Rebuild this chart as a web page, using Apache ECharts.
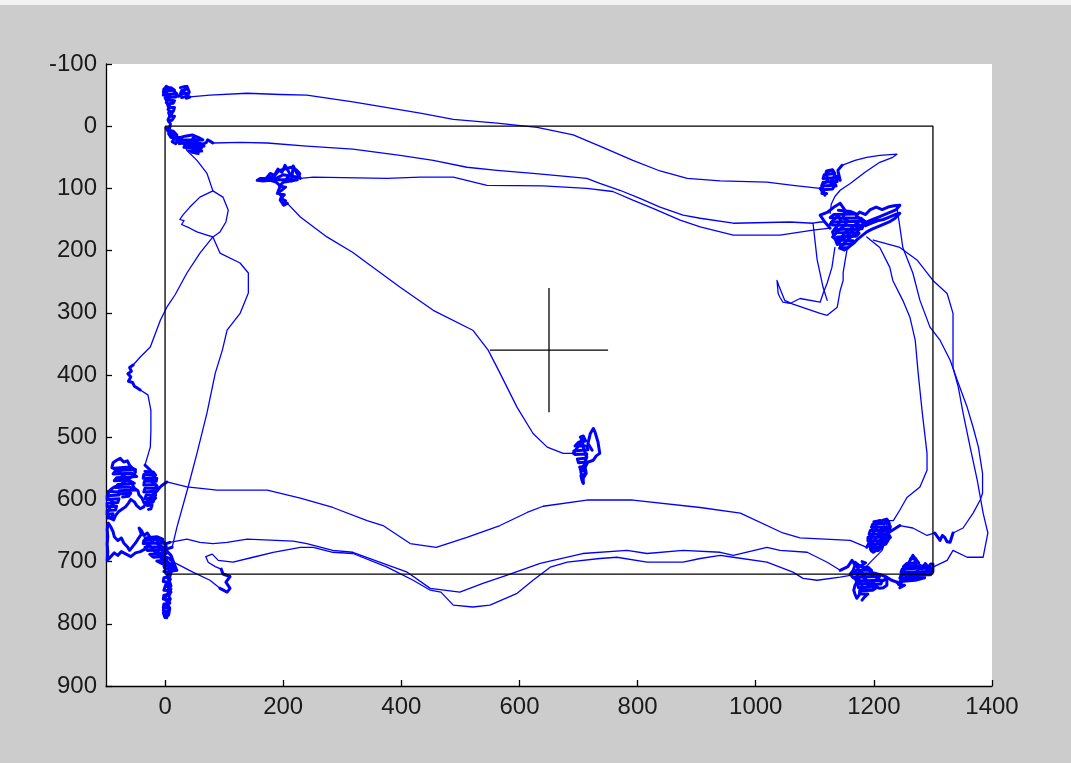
<!DOCTYPE html>
<html>
<head>
<meta charset="utf-8">
<title>Track</title>
<script src="https://cdn.jsdelivr.net/npm/echarts@6.0.0/dist/echarts.min.js"></script>
<style>
  html, body { margin: 0; padding: 0; background: #cccccc; }
  #chart { width: 1071px; height: 763px; }
</style>
</head>
<body>
<div id="chart"></div>
<script>
// tick labels
const xTicks = [0, 200, 400, 600, 800, 1000, 1200, 1400]
const yTicks = [-100, 0, 100, 200, 300, 400, 500, 600, 700, 800, 900]

// arena box and centre cross
const arenaBox = [[0, 0], [1300, 0], [1300, 720], [0, 720], [0, 0]]
const crossH = [[550, 360], [750, 360]]
const crossV = [[650, 260], [650, 460]]

// track runs (x, y)
const topArcLine = [[42,-47],[76,-50],[139,-53],[195,-51],[240,-50],[318,-39],[432,-21],[488,-11],[562,-5],[630,2],[691,14],[748,37],[792,55],[838,72],[884,84],[940,88],[1019,90],[1063,95],[1109,100]]
const tipLine = [[1146,63],[1168,55],[1188,50],[1210,47],[1239,45],[1232,50],[1210,58],[1185,74],[1160,92],[1143,103],[1134,113],[1128,125],[1126,140]]
const midArcLine = [[81,27],[127,26],[173,27],[240,32],[318,37],[398,47],[454,55],[511,66],[562,71],[623,76],[669,80],[714,84],[736,92],[770,103],[804,116],[838,130],[877,143],[906,148],[962,156],[1058,154],[1097,156],[1109,154],[1117,154]]
const line4 = [[691,526],[674,526],[647,516],[623,494],[596,452],[567,397],[547,360],[521,328],[454,296],[398,259],[342,220],[318,203],[274,178],[229,146],[207,124]]
const line3 = [[229,84],[251,82],[376,84],[432,82],[488,82],[545,95],[640,96],[714,100],[758,105],[792,119],[826,132],[872,151],[906,162],[962,175],[1041,175],[1097,167],[1126,164]]
const leftLoopLine = [[34,32],[37,39],[54,55],[71,76],[81,104],[59,114],[42,130],[30,143],[25,150],[32,152],[28,158],[30,159],[42,164],[54,170],[71,175],[81,178],[59,204],[37,236],[17,271],[3,291],[-8,312],[-25,355],[-42,371],[-54,384]]
const leftLoopLine2 = [[-42,424],[-29,432],[-24,457],[-24,490],[-25,516],[-34,545]]
const bottomLine = [[3,572],[37,580],[88,585],[173,585],[229,598],[284,613],[342,634],[369,642],[415,671],[459,677],[511,661],[567,642],[613,621],[640,611],[714,601],[792,601],[906,613],[974,622],[1046,654],[1075,662],[1160,666],[1188,677]]
const rightLine = [[1244,642],[1266,646],[1290,658],[1303,654]]
const outerUpLine = [[1334,654],[1351,646],[1368,622],[1380,601],[1384,590],[1384,558],[1377,516],[1368,484],[1358,452],[1341,408],[1329,376],[1312,344],[1295,323],[1278,280],[1266,236],[1249,195],[1244,162],[1239,130]]
const leftDownLine = [[81,104],[98,114],[107,135],[103,154],[93,170],[81,178],[93,204],[127,220],[141,236],[141,268],[127,301],[105,328],[97,360],[85,397],[71,461],[54,526],[39,580],[20,645],[12,677]]
const lineA = [[8,669],[37,664],[59,669],[81,671],[105,669],[139,664],[217,667],[240,671],[284,682],[318,685],[369,703],[410,717],[449,743],[499,749],[538,735],[578,722],[635,703],[707,687],[782,682],[816,687],[877,682],[940,685],[962,690],[1019,677],[1041,682],[1087,685],[1121,701],[1143,714]]
const r3Line = [[1300,709],[1324,698],[1334,682],[1358,693],[1385,693],[1393,654],[1388,634],[1385,622],[1375,569],[1363,516],[1351,461],[1343,420],[1334,388],[1334,301],[1324,269],[1300,248],[1273,215],[1244,195],[1199,183]]
const lineC = [[8,698],[25,706],[47,717],[76,730],[93,743]]
const lineB = [[95,712],[85,708],[73,701],[69,692],[80,688],[90,698],[115,701],[149,693],[183,685],[229,677],[251,677],[284,685],[318,687],[376,709],[420,730],[449,746],[467,749],[488,770],[521,773],[550,770],[596,751],[623,730],[652,709],[681,701],[736,695],[765,693],[816,701],[877,701],[906,695],[940,690],[962,693],[1019,701],[1063,717],[1080,727],[1104,730],[1143,725],[1160,722],[1180,715],[1195,700],[1214,682],[1222,660],[1222,634],[1233,634],[1244,617],[1256,597],[1278,580],[1290,553],[1290,526],[1282,461],[1275,397],[1270,344],[1261,307],[1249,280],[1232,248],[1227,227],[1210,195],[1188,178]]
const hookPath = [[1134,195],[1129,227],[1121,252],[1114,269],[1109,283],[1075,277],[1058,285],[1046,283],[1041,275],[1038,269],[1036,248],[1039,256],[1049,280],[1063,286],[1109,301],[1121,304],[1138,291],[1143,264],[1148,248],[1148,235],[1155,196]]
const hookStem = [[1097,156],[1104,215],[1114,259],[1121,280]]

// places where the animal lingered (scribble outlines)
const clusterA = [[42,-47],[36,-45],[41,-55],[37,-64],[33,-58],[30,-53],[26,-49],[22,-48],[17,-55],[12,-58],[8,-61],[2,-64],[-2,-58],[3,-55],[-3,-50],[5,-51],[9,-47],[4,-42],[2,-38],[8,-32],[5,-27],[12,-21],[8,-16],[5,-10],[9,-4],[8,3],[2,3],[5,8],[8,11],[14,14],[17,19],[12,25],[18,28],[20,24],[25,26],[28,20],[30,24],[34,32],[38,28],[40,24],[42,27],[46,22],[48,18],[51,21],[54,26],[56,30],[52,36],[58,40],[62,34],[64,35],[66,28],[68,31],[70,26],[72,22],[76,24],[81,27]]
const clusterB1 = [[1109,100],[1117,111],[1112,95],[1122,87],[1119,74],[1129,71],[1134,80],[1126,90],[1136,96],[1130,84],[1138,80],[1143,87],[1139,71],[1146,63]]
const clusterB2 = [[1126,164],[1117,154],[1109,143],[1122,138],[1134,129],[1143,124],[1151,135],[1148,148],[1156,152],[1150,160],[1142,166],[1136,172],[1130,178],[1138,184],[1146,178],[1152,170],[1160,166],[1166,160],[1172,156],[1178,162],[1172,170],[1164,176],[1156,182],[1148,190],[1142,196],[1150,199],[1158,194],[1166,188],[1172,182],[1180,176],[1188,170],[1196,166],[1206,162],[1216,158],[1226,154],[1236,148],[1244,140],[1236,142],[1226,146],[1216,150],[1206,152],[1196,156],[1186,160],[1178,150],[1170,144],[1176,138],[1186,142],[1194,134],[1204,130],[1214,134],[1224,130],[1234,128],[1244,127],[1238,134],[1228,138],[1218,142],[1208,146],[1198,150],[1188,154],[1180,158],[1168,166],[1160,172],[1152,178],[1144,184],[1138,190],[1134,180],[1130,170],[1138,160],[1144,152],[1140,144],[1132,150],[1126,158]]
const clusterC = [[207,124],[201,127],[195,119],[198,113],[191,106],[195,96],[188,90],[178,87],[166,88],[156,87],[161,84],[171,84],[178,76],[185,79],[191,69],[198,74],[203,63],[208,71],[212,78],[206,84],[214,88],[217,64],[222,74],[229,84]]
const clusterD = [[723,521],[716,510],[720,494],[725,486],[728,492],[733,508],[736,526],[730,530],[725,537],[716,540],[711,548],[713,558],[708,566],[708,574],[706,564],[704,556],[708,548],[714,532],[708,516],[706,500],[703,510],[691,526]]
const clusterLeft = [[-54,384],[-60,388],[-57,394],[-63,398],[-58,403],[-62,410],[-55,412],[-52,418],[-47,421],[-42,424]]
const clusterE = [[-34,545],[-25,553],[-17,566],[-22,572],[-14,578],[-12,585],[-19,592],[-16,598],[-25,603],[-29,609],[-36,605],[-39,598],[-44,593],[-46,586],[-52,582],[-56,575],[-62,570],[-67,564],[-73,560],[-78,556],[-84,552],[-90,549],[-88,541],[-82,537],[-76,534],[-70,540],[-64,538],[-60,545],[-55,550],[-50,556],[-54,562],[-60,566],[-66,570],[-72,574],[-78,578],[-86,580],[-92,584],[-96,590],[-97,598],[-91,602],[-86,606],[-92,611],[-96,617],[-98,624],[-93,630],[-87,633],[-84,626],[-79,620],[-73,616],[-67,612],[-62,606],[-58,600],[-52,604],[-48,610],[-42,615],[-36,612],[-33,606],[-28,600],[-22,594],[-17,588],[-12,584],[-6,578],[3,572]]
const clusterCorner = [[12,677],[2,680],[-6,686],[-2,692],[6,694],[14,700],[8,707],[15,712],[8,718],[3,724],[7,731],[1,737],[6,743],[10,749],[3,753],[-1,760],[5,765],[1,772],[-3,778],[3,783],[0,790],[6,786],[8,775],[4,768],[9,760],[4,752],[10,744],[5,737],[9,728],[4,721],[10,713],[6,705],[-3,700],[-8,692],[-12,684],[-8,676],[-14,670],[-10,664],[-18,662],[-22,668],[-26,660],[-30,654],[-36,658],[-40,650],[-44,646],[-40,656],[-46,664],[-50,670],[-55,676],[-60,682],[-64,676],[-70,670],[-74,662],[-80,666],[-86,660],[-88,652],[-92,644],[-96,638],[-98,648],[-97,660],[-98,672],[-97,684],[-98,698],[-92,692],[-86,686],[-80,690],[-74,684],[-66,688],[-58,692],[-50,686],[-42,684],[-34,680],[-28,672],[-22,678],[-16,686],[-10,690],[-4,696],[4,700],[12,706],[18,710],[10,690],[4,684],[-4,678],[-10,672],[-4,666],[0,672],[8,669]]
const clusterSmall = [[93,743],[105,749],[110,743],[103,733],[110,724],[98,720],[95,712]]
const clusterF = [[1188,677],[1194,666],[1199,654],[1205,646],[1202,637],[1210,634],[1217,640],[1222,632],[1227,642],[1221,648],[1214,646],[1208,652],[1214,658],[1222,656],[1227,662],[1220,668],[1212,664],[1206,670],[1200,676],[1207,679],[1199,685],[1194,680],[1196,672],[1202,664],[1208,658],[1214,654],[1220,660],[1214,668],[1210,676],[1218,672],[1214,660],[1244,642]]
const clusterRight = [[1303,654],[1312,666],[1316,658],[1320,661],[1324,668],[1329,669],[1334,654]]
const clusterG = [[1143,714],[1156,708],[1163,698],[1168,706],[1165,714],[1160,720],[1165,726],[1173,730],[1168,738],[1166,746],[1168,752],[1171,759],[1175,754],[1177,746],[1180,738],[1176,730],[1172,722],[1178,716],[1184,722],[1187,730],[1192,736],[1197,735],[1202,730],[1207,727],[1212,732],[1217,730],[1222,725],[1222,738],[1216,742],[1210,743],[1202,740],[1194,740],[1188,736],[1184,728],[1180,722],[1176,716],[1173,711],[1168,701],[1175,706],[1182,710],[1190,712],[1198,718],[1206,720],[1214,722],[1222,725],[1230,730],[1239,733]]
const clusterH = [[1239,733],[1244,738],[1249,730],[1246,722],[1250,716],[1253,709],[1258,704],[1261,701],[1266,690],[1271,696],[1268,704],[1274,708],[1278,706],[1282,712],[1287,703],[1292,709],[1296,704],[1300,704],[1300,716],[1294,714],[1287,717],[1281,720],[1275,722],[1268,718],[1261,725],[1256,720],[1253,730],[1260,730],[1268,726],[1275,712],[1284,710],[1292,712],[1300,709]]

// the densest cores of those spots
const denseATop = [[-2,-60],[10,-62],[16,-58],[-3,-56],[-2,-51],[20,-52],[18,-47],[0,-46],[2,-42],[16,-41],[14,-37],[4,-36],[6,-30],[16,-30],[14,-24],[6,-22],[8,-16],[16,-16],[12,-10],[6,-8]]
const denseATop2 = [[26,-62],[34,-64],[38,-60],[28,-57],[26,-52],[38,-53],[36,-48],[28,-46]]
const denseA = [[4,6],[14,8],[20,14],[6,12],[10,18],[26,18],[34,16],[46,14],[56,18],[64,22],[34,22],[20,22],[24,28],[50,26],[62,28],[66,32],[38,30],[32,34],[58,36],[62,40],[40,38],[46,42],[56,44]]
const denseB1 = [[1120,72],[1130,70],[1134,76],[1116,78],[1114,84],[1136,83],[1138,89],[1114,90],[1112,96],[1134,95],[1130,101],[1114,102],[1112,108],[1120,108]]
const denseB2 = [[1140,135],[1160,137],[1170,141],[1132,142],[1126,147],[1178,148],[1185,153],[1128,154],[1130,159],[1182,160],[1180,165],[1134,166],[1136,171],[1175,172],[1170,177],[1138,178],[1140,183],[1165,184],[1160,189],[1142,190],[1146,195],[1156,196]]
const denseC = [[170,84],[185,80],[192,72],[205,68],[214,66],[222,70],[228,76],[226,82],[212,80],[200,78],[188,84],[178,86],[166,86],[196,86],[210,86],[224,86],[200,90],[194,96],[204,98],[196,104],[190,108],[202,110],[196,116],[204,120],[200,126]]
const denseD = [[703,500],[708,498],[712,506],[700,508],[694,514],[714,514],[716,520],[692,522],[694,528],[714,527],[712,534],[698,535],[700,541],[714,540],[712,547],[702,548],[704,554],[712,553],[710,560],[704,562],[706,570],[708,574]]
const denseE1 = [[-86,550],[-60,548],[-50,552],[-84,554],[-88,559],[-56,558],[-48,563],[-82,565],[-86,570],[-62,569],[-52,574],[-80,576],[-84,581],[-60,580],[-50,585],[-78,586],[-74,591],[-58,590],[-62,595],[-72,596]]
const denseE2 = [[-34,555],[-20,556],[-16,561],[-36,560],[-37,566],[-14,566],[-15,571],[-35,571],[-36,577],[-16,576],[-14,582],[-34,582],[-36,588],[-18,587],[-16,593],[-32,593],[-34,599],[-18,598],[-20,604],[-32,604],[-30,610],[-22,609],[-24,615],[-28,616]]
const denseE3 = [[-96,587],[-80,588],[-78,593],[-98,594],[-98,600],[-78,599],[-80,605],[-98,606],[-98,612],[-82,611],[-84,617],[-98,618],[-98,624],[-88,623],[-90,629],[-97,630]]
const denseCorner = [[-34,662],[-14,660],[-4,664],[-36,666],[-37,671],[0,670],[2,676],[-34,677],[-30,682],[3,681],[2,687],[-26,688],[-20,693],[0,692],[3,698],[-14,699],[-6,703],[4,702],[10,706],[-2,707],[0,712],[18,710],[20,714],[6,716]]
const denseStrip = [[-2,716],[10,718],[8,724],[-2,726],[-3,732],[8,733],[10,739],[0,740],[-2,746],[9,747],[8,753],[-2,754],[-3,760],[6,761],[8,767],[-2,768],[-3,774],[5,775],[4,781],[-3,782],[-1,788],[3,790]]
const denseF = [[1200,636],[1214,634],[1222,632],[1226,638],[1198,640],[1196,645],[1228,644],[1226,650],[1194,650],[1192,656],[1224,655],[1228,661],[1190,661],[1190,667],[1224,666],[1220,672],[1192,672],[1194,678],[1214,677],[1208,682],[1196,683]]
const denseG = [[1180,700],[1186,702],[1176,708],[1190,709],[1196,714],[1170,714],[1166,720],[1200,719],[1210,724],[1168,725],[1170,731],[1214,730],[1212,736],[1172,736],[1174,742],[1206,741],[1198,746],[1176,747],[1178,752],[1190,752],[1184,757],[1180,762]]
const denseH = [[1262,696],[1270,695],[1276,702],[1256,703],[1250,708],[1284,707],[1294,710],[1248,712],[1246,717],[1298,716],[1296,721],[1246,722],[1244,727],[1286,726],[1270,730],[1244,732],[1242,737],[1252,738],[1244,742]]

const trackLines = [topArcLine, tipLine, midArcLine, line4, line3, leftLoopLine, leftLoopLine2, bottomLine, rightLine, outerUpLine, leftDownLine, lineA, r3Line, lineC, lineB, hookPath, hookStem]
const trackClusters = [clusterA, clusterB1, clusterB2, clusterC, clusterD, clusterLeft, clusterE, clusterCorner, clusterSmall, clusterF, clusterRight, clusterG, clusterH,
    denseATop, denseATop2, denseA, denseB1, denseB2, denseC, denseD, denseE1, denseE2, denseE3, denseCorner, denseStrip, denseF, denseG, denseH]

const chart = echarts.init(document.getElementById('chart'), null, { renderer: 'canvas' })

const labelStyle = { color: '#1a1a1a', fontSize: 24, fontFamily: 'Liberation Sans, Arial, sans-serif' }

function trackSeries(p, w) {
    return {
        type: 'line',
        data: p,
        showSymbol: false,
        symbol: 'none',
        lineStyle: { color: '#0000ff', width: w, join: 'round', cap: 'round' },
        z: 2
    }
}

let series = trackLines.map(p => trackSeries(p, 1.3))
    .concat(trackClusters.map(p => trackSeries(p, 3)))

// black box and cross drawn on top
series.push(
    { type: 'line', data: arenaBox, symbol: 'none', lineStyle: { color: '#000', width: 1.3 }, z: 3 },
    { type: 'line', data: crossH, symbol: 'none', lineStyle: { color: '#000', width: 1.3 }, z: 3 },
    { type: 'line', data: crossV, symbol: 'none', lineStyle: { color: '#000', width: 1.3 }, z: 3 }
)

let option = {
    animation: false,
    backgroundColor: '#cccccc',
    graphic: [{
        type: 'rect',
        shape: { x: 0, y: 0, width: 1071, height: 5 },
        style: { fill: '#f2f2f2' },
        silent: true
    }],
    grid: {
        left: 106, right: 79, top: 64, bottom: 77,
        show: true, backgroundColor: '#ffffff', borderWidth: 0,
        outerBoundsMode: 'none'
    },
    xAxis: {
        type: 'value', min: -100, max: 1400,
        axisLine: { show: true, onZero: false, lineStyle: { color: '#000', width: 1.3 } },
        axisTick: { show: true, inside: true, length: 6, customValues: xTicks, lineStyle: { color: '#000', width: 1.3 } },
        axisLabel: Object.assign({ margin: 9, customValues: xTicks, formatter: v => String(v) }, labelStyle),
        splitLine: { show: false }
    },
    yAxis: {
        type: 'value', min: -100, max: 900, interval: 100, inverse: true,
        axisLine: { show: true, onZero: false, lineStyle: { color: '#000', width: 1.3 } },
        axisTick: { show: true, inside: true, length: 6, lineStyle: { color: '#000', width: 1.3 } },
        axisLabel: Object.assign({ margin: 9, customValues: yTicks, formatter: v => String(v) }, labelStyle),
        splitLine: { show: false }
    },
    series: series
}
chart.setOption(option)
</script>
</body>
</html>
